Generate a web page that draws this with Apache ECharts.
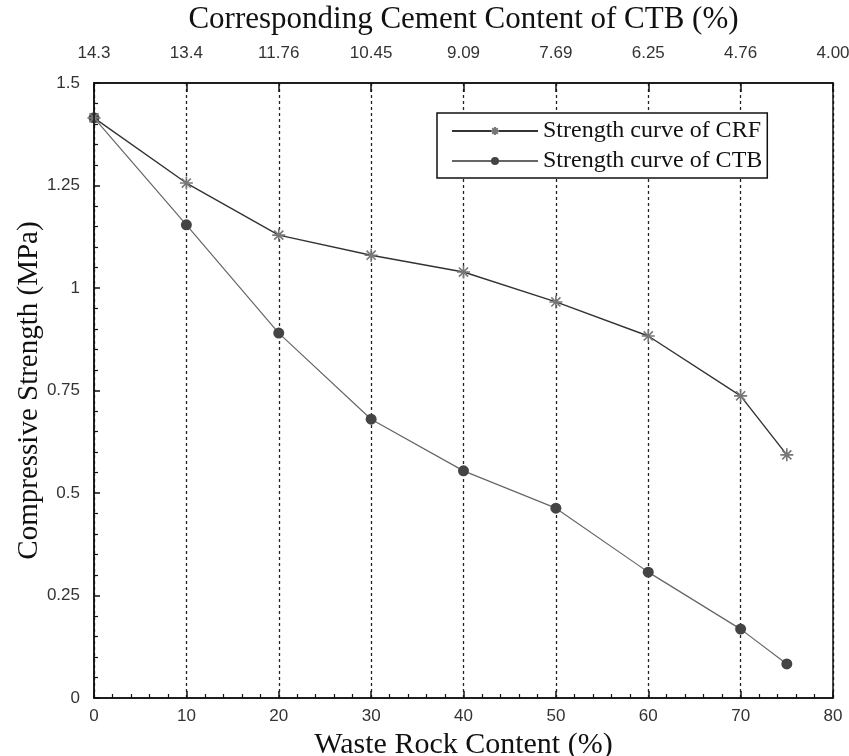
<!DOCTYPE html>
<html>
<head>
<meta charset="utf-8">
<script src="https://cdn.jsdelivr.net/npm/echarts@6/dist/echarts.min.js"></script>
<style>
html,body{margin:0;padding:0;background:#fff;}
#chart{width:849px;height:756px;}
</style>
</head>
<body>
<div id="chart"></div>
<script>
// Waste rock content (%) values
var wasteRock = [0, 10, 20, 30, 40, 50, 60, 70, 75];
// Compressive strength (MPa)
var crfStrength = [1.415, 1.256, 1.129, 1.080, 1.039, 0.966, 0.883, 0.737, 0.593];
var ctbStrength = [1.415, 1.154, 0.890, 0.680, 0.554, 0.463, 0.307, 0.168, 0.083];
// Top axis tick values (waste rock %) and the corresponding cement content labels
var topTicks = [0, 10, 20, 30, 40, 50, 60, 70, 80];
var cementLabels = ['14.3', '13.4', '11.76', '10.45', '9.09', '7.69', '6.25', '4.76', '4.00'];
var yTicks = ['0', '0.25', '0.5', '0.75', '1', '1.25', '1.5'];

var seriesNames = ['Strength curve of CRF', 'Strength curve of CTB'];

function pairs(xs, ys) { return xs.map(function (x, i) { return [x, ys[i]]; }); }

var serif = '"Liberation Serif", "DejaVu Serif", serif';
var narrow = '"Liberation Sans Narrow", "Liberation Sans", sans-serif';

var chart = echarts.init(document.getElementById('chart'));
chart.setOption({
  backgroundColor: '#fff',
  animation: false,
  grid: { left: 94, right: 16, top: 83, bottom: 58, containLabel: false, outerBoundsMode: 'none',
          show: true, borderColor: '#111', borderWidth: 1.5, z: 5 },
  legend: {
    left: 437, top: 113,
    orient: 'vertical',
    data: seriesNames,
    backgroundColor: '#fff',
    borderColor: '#111', borderWidth: 1.5,
    padding: [6, 5, 5, 14],
    itemWidth: 86, itemHeight: 10, itemGap: 6,
    textStyle: { fontFamily: serif, fontSize: 24, color: '#111' }
  },
  xAxis: [
    {
      type: 'value', position: 'bottom', min: 0, max: 80, interval: 10,
      name: 'Waste Rock Content (%)', nameLocation: 'middle', nameGap: 31,
      nameTextStyle: { fontFamily: serif, fontSize: 30, color: '#111' },
      axisLine: { show: true, onZero: false, lineStyle: { color: '#111', width: 1.5 } },
      axisTick: { show: true, inside: true, length: 7, lineStyle: { color: '#111', width: 1.5 } },
      minorTick: { show: true, splitNumber: 5, length: 4, lineStyle: { color: '#111', width: 1.2 } },
      axisLabel: { margin: 10, fontFamily: narrow, fontSize: 17, color: '#333' },
      splitLine: { show: true, lineStyle: { color: '#222', type: [3, 3], width: 1.3 } }
    },
    {
      type: 'value', position: 'top', min: 0, max: 80, interval: 10,
      name: 'Corresponding Cement Content of CTB (%)', nameLocation: 'middle', nameGap: 48,
      nameTextStyle: { fontFamily: serif, fontSize: 31, color: '#111' },
      axisLine: { show: true, onZero: false, lineStyle: { color: '#111', width: 1.5 } },
      axisTick: { show: true, inside: true, length: 9, lineStyle: { color: '#111', width: 1.5 } },
      axisLabel: {
        margin: 21, fontFamily: narrow, fontSize: 17, color: '#333',
        formatter: function (v) { var i = topTicks.indexOf(v); return i >= 0 ? cementLabels[i] : ''; }
      },
      splitLine: { show: false }
    }
  ],
  yAxis: {
    type: 'value', min: 0, max: 1.5, interval: 0.25,
    name: 'Compressive Strength (MPa)', nameLocation: 'middle', nameGap: 50, nameMoveOverlap: false,
    nameTextStyle: { fontFamily: serif, fontSize: 29, color: '#111' },
    axisLine: { show: true, lineStyle: { color: '#111', width: 1.5 } },
    axisTick: { show: true, inside: true, length: 6, lineStyle: { color: '#111', width: 1.5 } },
    minorTick: { show: true, splitNumber: 5, length: 4, lineStyle: { color: '#111', width: 1.2 } },
    axisLabel: {
      margin: 14, fontFamily: narrow, fontSize: 17, color: '#333',
      formatter: function (v) { return yTicks[Math.round(v / 0.25)]; }
    },
    splitLine: { show: false }
  },
  series: [
    {
      name: seriesNames[0], type: 'line', xAxisIndex: 0,
      data: pairs(wasteRock, crfStrength),
      symbol: 'path://M0,5 L10,5 M5,0 L5,10 M1.5,1.5 L8.5,8.5 M8.5,1.5 L1.5,8.5',
      symbolSize: 13,
      lineStyle: { color: '#333', width: 1.4 },
      itemStyle: { color: '#888', borderColor: '#777', borderWidth: 1.6 },
      z: 3
    },
    {
      name: seriesNames[1], type: 'line', xAxisIndex: 0,
      data: pairs(wasteRock, ctbStrength),
      symbol: 'circle', symbolSize: 11,
      lineStyle: { color: '#666', width: 1.2 },
      itemStyle: { color: '#444' },
      z: 2
    }
  ]
});
</script>
</body>
</html>
